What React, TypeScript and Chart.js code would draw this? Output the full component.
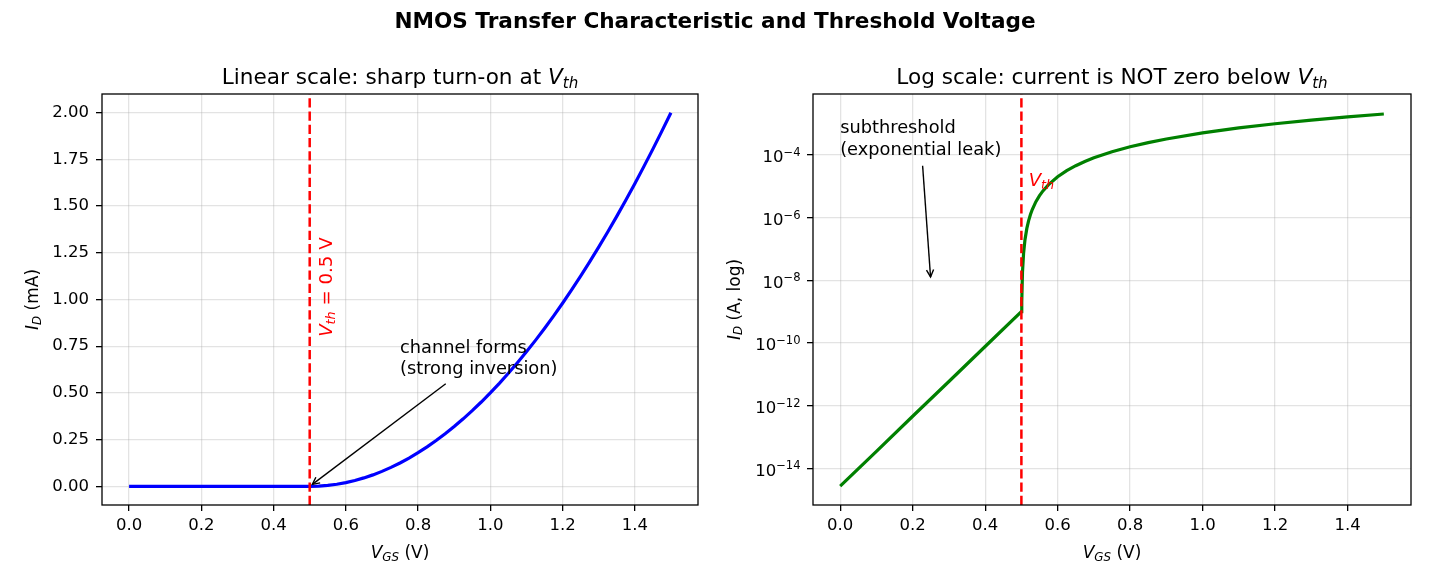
import React, { useEffect, useRef } from "react";
import { Chart, registerables } from "chart.js";

Chart.register(...registerables);

const FAMILY = "'DejaVu Sans', 'Liberation Sans', sans-serif";

// Linear panel: gate-source voltage (V) and drain current (mA)
const VGS_LIN = [
  0, 0.1, 0.2, 0.3, 0.4, 0.5, 0.525, 0.55, 0.575, 0.6, 0.625, 0.65, 0.675, 0.7, 0.725, 0.75,
  0.775, 0.8, 0.825, 0.85, 0.875, 0.9, 0.925, 0.95, 0.975, 1.0, 1.025, 1.05, 1.075, 1.1,
  1.125, 1.15, 1.175, 1.2, 1.225, 1.25, 1.275, 1.3, 1.325, 1.35, 1.375, 1.4, 1.425, 1.45,
  1.475, 1.5,
];
const ID_MA = [
  0, 0, 0, 0, 0, 0, 0.00125, 0.005, 0.01125, 0.02, 0.03125, 0.045, 0.06125, 0.08, 0.10125,
  0.125, 0.15125, 0.18, 0.21125, 0.245, 0.28125, 0.32, 0.36125, 0.405, 0.45125, 0.5, 0.55125,
  0.605, 0.66125, 0.72, 0.78125, 0.845, 0.91125, 0.98, 1.05125, 1.125, 1.20125, 1.28, 1.36125,
  1.445, 1.53125, 1.62, 1.71125, 1.805, 1.90125, 2.0,
];

// Log panel: subthreshold leak below V_th, square-law current above it (A)
const VGS_LOG = [
  0, 0.1, 0.2, 0.3, 0.4, 0.5, 0.501, 0.503, 0.506, 0.51, 0.515, 0.52, 0.525, 0.53, 0.54, 0.55,
  0.56, 0.575, 0.6, 0.625, 0.65, 0.675, 0.7, 0.75, 0.8, 0.85, 0.9, 1.0, 1.1, 1.2, 1.3, 1.4, 1.5,
];
const ID_A = [
  2.7e-15, 3.5e-14, 4.6e-13, 5.9e-12, 7.7e-11, 1.0e-9, 2.0e-9, 1.8e-8, 7.2e-8, 2.0e-7, 4.5e-7,
  8.0e-7, 1.25e-6, 1.8e-6, 3.2e-6, 5.0e-6, 7.2e-6, 1.125e-5, 2.0e-5, 3.125e-5, 4.5e-5, 6.125e-5,
  8.0e-5, 1.25e-4, 1.8e-4, 2.45e-4, 3.2e-4, 5.0e-4, 7.2e-4, 9.8e-4, 1.28e-3, 1.62e-3, 2.0e-3,
];

const VTH = 0.5;
const X_TICKS = [0, 0.2, 0.4, 0.6, 0.8, 1.0, 1.2, 1.4];
const Y_TICKS_MA = [0, 0.25, 0.5, 0.75, 1.0, 1.25, 1.5, 1.75, 2.0];
const Y_LOG_EXPONENTS = [-14, -12, -10, -8, -6, -4];
const X_RANGE = [-0.075, 1.575];
const Y_RANGE_MA = [-0.1, 2.1];
const Y_RANGE_A = [6.8e-16, 8.7e-3];

const SUPTITLE = "NMOS Transfer Characteristic and Threshold Voltage";

type Seg = { t: string; it?: boolean; sub?: boolean };

const TITLE_LIN: Seg[] = [{ t: "Linear scale: sharp turn-on at " }, { t: "V", it: true }, { t: "th", it: true, sub: true }];
const TITLE_LOG: Seg[] = [{ t: "Log scale: current is NOT zero below " }, { t: "V", it: true }, { t: "th", it: true, sub: true }];
const XLABEL: Seg[] = [{ t: "V", it: true }, { t: "GS", it: true, sub: true }, { t: " (V)" }];
const YLABEL_LIN: Seg[] = [{ t: "I", it: true }, { t: "D", it: true, sub: true }, { t: " (mA)" }];
const YLABEL_LOG: Seg[] = [{ t: "I", it: true }, { t: "D", it: true, sub: true }, { t: " (A, log)" }];
const VTH_LABEL_LIN: Seg[] = [{ t: "V", it: true }, { t: "th", it: true, sub: true }, { t: " = 0.5 V" }];
const VTH_LABEL_LOG: Seg[] = [{ t: "V", it: true }, { t: "th", it: true, sub: true }];

type Note = { lines: string[]; at: [number, number]; target: [number, number] };
const NOTE_LIN: Note = { lines: ["channel forms", "(strong inversion)"], at: [0.75, 0.6], target: [0.5, 0] };
const NOTE_LOG: Note = { lines: ["subthreshold", "(exponential leak)"], at: [0, 1e-4], target: [0.25, 1e-8] };

const TICK_FONT = 16.5;
const TITLE_FONT = 21.6;
const LABEL_FONT = 17;
const NOTE_FONT = 17.8;
const VTH_FONT = 18.2;
const GRID_COLOR = "rgba(176,176,176,0.35)";

function segFont(s: Seg, size: number) {
  const sz = s.sub ? size * 0.7 : size;
  return `${s.it ? "italic " : ""}${sz}px ${FAMILY}`;
}

function richWidth(ctx: CanvasRenderingContext2D, segs: Seg[], size: number) {
  let w = 0;
  for (const s of segs) {
    ctx.font = segFont(s, size);
    w += ctx.measureText(s.t).width;
  }
  return w;
}

function drawRich(
  ctx: CanvasRenderingContext2D,
  segs: Seg[],
  x: number,
  y: number,
  size: number,
  align: "left" | "center" | "right",
  color: string
) {
  const w = richWidth(ctx, segs, size);
  let cx = align === "center" ? x - w / 2 : align === "right" ? x - w : x;
  ctx.fillStyle = color;
  ctx.textAlign = "left";
  ctx.textBaseline = "alphabetic";
  for (const s of segs) {
    ctx.font = segFont(s, size);
    ctx.fillText(s.t, cx, y + (s.sub ? size * 0.17 : 0));
    cx += ctx.measureText(s.t).width;
  }
}

function drawNote(ctx: CanvasRenderingContext2D, chart: Chart, note: Note) {
  const xs = chart.scales.x;
  const ys = chart.scales.y;
  const fs = NOTE_FONT;
  const gap = fs * 1.2;
  const tx = xs.getPixelForValue(note.at[0]);
  const lastBase = ys.getPixelForValue(note.at[1]);
  const n = note.lines.length;
  ctx.font = `${fs}px ${FAMILY}`;
  ctx.fillStyle = "#000";
  ctx.textAlign = "left";
  ctx.textBaseline = "alphabetic";
  let w = 0;
  note.lines.forEach((line, i) => {
    ctx.fillText(line, tx, lastBase - (n - 1 - i) * gap);
    w = Math.max(w, ctx.measureText(line).width);
  });
  const top = lastBase - (n - 1) * gap - 0.76 * fs;
  const bottom = lastBase + 0.24 * fs;
  const cx = tx + w / 2;
  const cy = (top + bottom) / 2;
  const px = xs.getPixelForValue(note.target[0]);
  const py = ys.getPixelForValue(note.target[1]);
  const dx = px - cx;
  const dy = py - cy;
  const pad = 3.3;
  const hw = w / 2 + pad;
  const hh = (bottom - top) / 2 + pad;
  const t = Math.min(dx !== 0 ? hw / Math.abs(dx) : Infinity, dy !== 0 ? hh / Math.abs(dy) : Infinity);
  const len = Math.hypot(dx, dy);
  const ux = dx / len;
  const uy = dy / len;
  const shrink = 3.3;
  const sx = cx + dx * t + ux * shrink;
  const sy = cy + dy * t + uy * shrink;
  const ex = px - ux * shrink;
  const ey = py - uy * shrink;
  const headLen = 0.4 * fs;
  const headHalf = 0.2 * fs;
  ctx.save();
  ctx.strokeStyle = "#000";
  ctx.lineWidth = 1.4;
  ctx.lineCap = "butt";
  ctx.lineJoin = "miter";
  ctx.beginPath();
  ctx.moveTo(sx, sy);
  ctx.lineTo(ex, ey);
  ctx.stroke();
  ctx.beginPath();
  ctx.moveTo(ex - ux * headLen - uy * headHalf, ey - uy * headLen + ux * headHalf);
  ctx.lineTo(ex, ey);
  ctx.lineTo(ex - ux * headLen + uy * headHalf, ey - uy * headLen - ux * headHalf);
  ctx.stroke();
  ctx.restore();
}

function drawVthLine(chart: Chart) {
  const { ctx, chartArea } = chart;
  const x = chart.scales.x.getPixelForValue(VTH);
  ctx.save();
  ctx.beginPath();
  ctx.rect(chartArea.left, chartArea.top, chartArea.right - chartArea.left, chartArea.bottom - chartArea.top);
  ctx.clip();
  ctx.strokeStyle = "#ff0000";
  ctx.lineWidth = 2.5;
  ctx.setLineDash([9.25, 4]);
  ctx.beginPath();
  ctx.moveTo(x, chartArea.bottom);
  ctx.lineTo(x, chartArea.top);
  ctx.stroke();
  ctx.restore();
}

function drawFrame(chart: Chart) {
  const { ctx, chartArea } = chart;
  ctx.save();
  ctx.strokeStyle = "#000";
  ctx.lineWidth = 1.3;
  ctx.strokeRect(chartArea.left, chartArea.top, chartArea.right - chartArea.left, chartArea.bottom - chartArea.top);
  ctx.restore();
}

function drawAxisTexts(chart: Chart, title: Seg[], ylabel: Seg[], ylabelX: number) {
  const { ctx, chartArea } = chart;
  const midX = (chartArea.left + chartArea.right) / 2;
  const midY = (chartArea.top + chartArea.bottom) / 2;
  drawRich(ctx, title, midX, chartArea.top - 10, TITLE_FONT, "center", "#000");
  drawRich(ctx, XLABEL, midX, 558, LABEL_FONT, "center", "#000");
  ctx.save();
  ctx.translate(ylabelX, midY);
  ctx.rotate(-Math.PI / 2);
  drawRich(ctx, ylabel, 0, 0, LABEL_FONT, "center", "#000");
  ctx.restore();
}

function xScale(height: number) {
  return {
    type: "linear" as const,
    min: X_RANGE[0],
    max: X_RANGE[1],
    bounds: "data" as const,
    afterBuildTicks: (s: any) => {
      s.ticks = X_TICKS.map((v) => ({ value: v }));
    },
    afterFit: (s: any) => {
      s.height = height;
    },
    ticks: {
      autoSkip: false,
      maxRotation: 0,
      padding: 5,
      color: "#000",
      font: { family: FAMILY, size: TICK_FONT },
      callback: (v: any) => Number(v).toFixed(1),
    },
    grid: { color: GRID_COLOR, lineWidth: 1.3, tickLength: 6, tickColor: "#000", tickWidth: 1.3 },
    border: { display: false },
  };
}

const linearPanel = {
  id: "linearPanel",
  afterDatasetsDraw(chart: Chart) {
    drawVthLine(chart);
  },
  afterDraw(chart: Chart) {
    const { ctx } = chart;
    drawFrame(chart);
    ctx.save();
    ctx.font = `bold ${TITLE_FONT}px ${FAMILY}`;
    ctx.fillStyle = "#000";
    ctx.textAlign = "center";
    ctx.textBaseline = "alphabetic";
    ctx.fillText(SUPTITLE, 715, 28);
    ctx.restore();
    drawAxisTexts(chart, TITLE_LIN, YLABEL_LIN, 38);
    // rotated threshold label beside the dashed line
    const px = chart.scales.x.getPixelForValue(VTH + 0.02);
    const py = chart.scales.y.getPixelForValue(0.8);
    ctx.save();
    ctx.translate(px + 15.2, py);
    ctx.rotate(-Math.PI / 2);
    drawRich(ctx, VTH_LABEL_LIN, 0, 0, VTH_FONT, "left", "#ff0000");
    ctx.restore();
    drawNote(ctx, chart, NOTE_LIN);
  },
};

const logPanel = {
  id: "logPanel",
  afterDatasetsDraw(chart: Chart) {
    drawVthLine(chart);
  },
  afterDraw(chart: Chart) {
    const { ctx, chartArea } = chart;
    drawFrame(chart);
    drawAxisTexts(chart, TITLE_LOG, YLABEL_LOG, 739.5);
    // power-of-ten tick labels
    const ys = chart.scales.y;
    const xr = chartArea.left - 12.5;
    for (const e of Y_LOG_EXPONENTS) {
      const py = ys.getPixelForValue(Math.pow(10, e));
      const expText = "\u2212" + Math.abs(e);
      ctx.font = `${TICK_FONT * 0.7}px ${FAMILY}`;
      const ew = ctx.measureText(expText).width;
      ctx.font = `${TICK_FONT}px ${FAMILY}`;
      const bw = ctx.measureText("10").width;
      ctx.fillStyle = "#000";
      ctx.textAlign = "left";
      ctx.textBaseline = "alphabetic";
      const base = py + 7.5;
      ctx.fillText("10", xr - ew - bw, base);
      ctx.font = `${TICK_FONT * 0.7}px ${FAMILY}`;
      ctx.fillText(expText, xr - ew, base - 6.5);
    }
    const px = chart.scales.x.getPixelForValue(VTH + 0.02);
    const py = ys.getPixelForValue(1e-5);
    drawRich(ctx, VTH_LABEL_LOG, px, py, VTH_FONT, "left", "#ff0000");
    drawNote(ctx, chart, NOTE_LOG);
  },
};

function makeLinear(canvas: HTMLCanvasElement) {
  return new Chart(canvas, {
    type: "line",
    data: {
      datasets: [
        {
          data: VGS_LIN.map((x, i) => ({ x, y: ID_MA[i] })),
          borderColor: "#0000ff",
          borderWidth: 3.2,
          pointRadius: 0,
          fill: false,
          tension: 0,
        },
      ],
    },
    options: {
      responsive: false,
      animation: false,
      devicePixelRatio: 1,
      layout: { padding: { left: 0, right: 1430 - 698, top: 94, bottom: 0 } },
      plugins: { legend: { display: false }, tooltip: { enabled: false }, title: { display: false } },
      scales: {
        x: xScale(80),
        y: {
          type: "linear",
          min: Y_RANGE_MA[0],
          max: Y_RANGE_MA[1],
          bounds: "data",
          afterBuildTicks: (s: any) => {
            s.ticks = Y_TICKS_MA.map((v) => ({ value: v }));
          },
          afterFit: (s: any) => {
            s.width = 102;
          },
          ticks: {
            padding: 7,
            color: "#000",
            font: { family: FAMILY, size: TICK_FONT },
            callback: (v: any) => Number(v).toFixed(2),
          },
          grid: { color: GRID_COLOR, lineWidth: 1.3, tickLength: 6, tickColor: "#000", tickWidth: 1.3 },
          border: { display: false },
        },
      },
    } as any,
    plugins: [linearPanel as any],
  });
}

function makeLog(canvas: HTMLCanvasElement) {
  return new Chart(canvas, {
    type: "line",
    data: {
      datasets: [
        {
          data: VGS_LOG.map((x, i) => ({ x, y: ID_A[i] })),
          borderColor: "#008000",
          borderWidth: 3.2,
          pointRadius: 0,
          fill: false,
          tension: 0,
        },
      ],
    },
    options: {
      responsive: false,
      animation: false,
      devicePixelRatio: 1,
      layout: { padding: { left: 813 - 102, right: 1430 - 1411, top: 94, bottom: 0 } },
      plugins: { legend: { display: false }, tooltip: { enabled: false }, title: { display: false } },
      scales: {
        x: xScale(80),
        y: {
          type: "logarithmic",
          min: Y_RANGE_A[0],
          max: Y_RANGE_A[1],
          bounds: "data",
          afterBuildTicks: (s: any) => {
            s.ticks = Y_LOG_EXPONENTS.map((e) => ({ value: Math.pow(10, e), major: true }));
          },
          afterFit: (s: any) => {
            s.width = 102;
          },
          ticks: { display: false },
          grid: { color: GRID_COLOR, lineWidth: 1.3, tickLength: 6, tickColor: "#000", tickWidth: 1.3 },
          border: { display: false },
        },
      },
    } as any,
    plugins: [logPanel as any],
  });
}

export default function App() {
  const leftRef = useRef<HTMLCanvasElement>(null);
  const rightRef = useRef<HTMLCanvasElement>(null);

  useEffect(() => {
    const left = makeLinear(leftRef.current!);
    const right = makeLog(rightRef.current!);
    return () => {
      left.destroy();
      right.destroy();
    };
  }, []);

  return (
    <div style={{ position: "absolute", left: 0, top: 0, width: 1430, height: 585, background: "#fff" }}>
      <canvas ref={leftRef} width={1430} height={585} style={{ position: "absolute", left: 0, top: 0 }} />
      <canvas ref={rightRef} width={1430} height={585} style={{ position: "absolute", left: 0, top: 0 }} />
    </div>
  );
}
